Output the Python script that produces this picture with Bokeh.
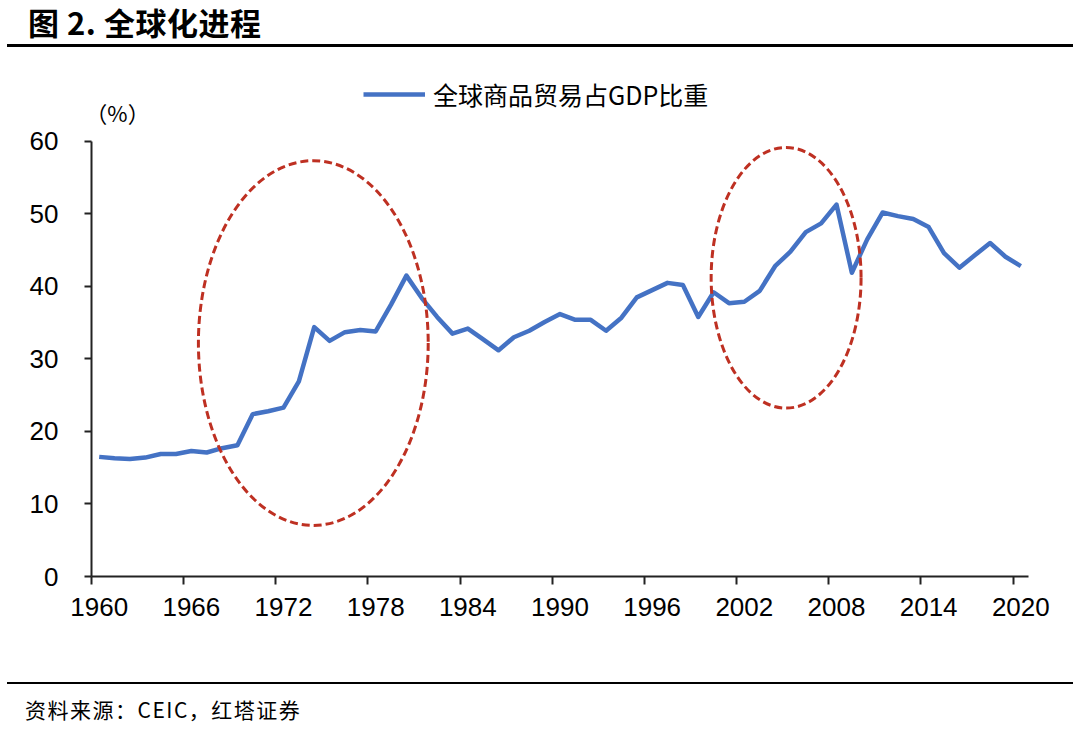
from bokeh.plotting import figure
from bokeh.layouts import column
from bokeh.models import (ColumnDataSource, Range1d, FixedTicker, Label, Legend,
                          LegendItem, Div)
from bokeh.embed import file_html
from bokeh.resources import INLINE

# ---- data ----
years = list(range(1960, 2021))
trade_share = [16.5, 16.3, 16.2, 16.4, 16.9, 16.9, 17.3, 17.1, 17.7, 18.1,
               22.4, 22.8, 23.3, 26.9, 34.4, 32.5, 33.7, 34.0, 33.8, 37.5,
               41.5, 38.4, 35.8, 33.5, 34.2, 32.7, 31.2, 33.0, 33.9, 35.1,
               36.2, 35.4, 35.4, 33.9, 35.7, 38.5, 39.5, 40.5, 40.2, 35.8,
               39.2, 37.7, 37.9, 39.4, 42.8, 44.8, 47.5, 48.7, 51.3, 41.9,
               46.5, 50.2, 49.7, 49.3, 48.2, 44.6, 42.6, 44.3, 46.0, 44.1,
               42.8]
series_name = "全球商品贸易占GDP比重"
x_tick_labels = [1960, 1966, 1972, 1978, 1984, 1990, 1996, 2002, 2008, 2014, 2020]
y_ticks = [0, 10, 20, 30, 40, 50, 60]

# highlighted periods (ellipses): centre year, centre value, width (years), height (value)
ell_x = [1973.94, 2004.72]
ell_y = [32.2, 41.2]
ell_w = [14.96, 9.76]
ell_h = [50.3, 35.95]

title_text = "图 2. 全球化进程"
unit_text = "（%）"
source_text = "资料来源：CEIC，红塔证券"

CJK = "Noto Sans CJK SC"
LAT = "Liberation Sans"
W = 1080

# ---- header: title + rule ----
header_html = (
    '<div style="position:relative;width:1080px;height:60px;margin:0;padding:0;">'
    '<div style="position:absolute;left:28px;top:6px;white-space:nowrap;'
    'font-family:\'Noto Sans CJK SC\';font-weight:bold;font-size:31px;'
    'line-height:31px;letter-spacing:0.5px;color:black;">' + title_text + '</div>'
    '<div style="position:absolute;left:7px;top:44px;width:1066px;height:3px;'
    'background:black;"></div></div>'
)
header = Div(text=header_html, width=W, height=60, margin=0)

# ---- main chart ----
p = figure(width=W, height=610, output_backend="svg", toolbar_location=None,
           x_range=Range1d(1959.5, 2020.5), y_range=Range1d(0, 69.79),
           min_border_left=91, min_border_right=52, min_border_top=10,
           min_border_bottom=94, margin=0)
p.outline_line_color = None
p.xgrid.visible = False
p.ygrid.visible = False
p.background_fill_color = "white"
p.border_fill_color = "white"

src = ColumnDataSource(dict(x=years, y=trade_share))
line = p.line("x", "y", source=src, line_color="#4472C4", line_width=4.5,
              line_join="round")

esrc = ColumnDataSource(dict(x=ell_x, y=ell_y, w=ell_w, h=ell_h))
p.ellipse("x", "y", width="w", height="h", source=esrc, fill_color=None,
          line_color="#BE3022", line_width=3, line_dash="8 4")

# x axis: labels at category centres, tick marks at category boundaries
xa = p.xaxis[0]
xa.ticker = FixedTicker(ticks=x_tick_labels,
                        minor_ticks=[t - 0.5 for t in x_tick_labels])
xa.major_tick_out = 0
xa.major_tick_in = 0
xa.minor_tick_out = 8
xa.minor_tick_in = 0
xa.minor_tick_line_color = "#222222"
xa.minor_tick_line_width = 2
xa.axis_line_color = "#222222"
xa.axis_line_width = 2
xa.major_label_text_font = LAT
xa.major_label_text_font_size = "26px"
xa.major_label_text_color = "black"
xa.major_label_standoff = 13

ya = p.yaxis[0]
ya.ticker = FixedTicker(ticks=y_ticks)
ya.bounds = (0, 60)
ya.major_tick_out = 7
ya.major_tick_in = 0
ya.minor_tick_out = 0
ya.minor_tick_in = 0
ya.major_tick_line_color = "#222222"
ya.major_tick_line_width = 2
ya.axis_line_color = "#222222"
ya.axis_line_width = 2
ya.major_label_text_font = LAT
ya.major_label_text_font_size = "26px"
ya.major_label_text_color = "black"
ya.major_label_standoff = 26

legend = Legend(items=[LegendItem(label=series_name, renderers=[line])],
                location=(272, 464), orientation="horizontal",
                glyph_width=62, glyph_height=28, label_height=28,
                label_standoff=8, padding=0, margin=0, spacing=0,
                border_line_color=None, background_fill_alpha=0,
                label_text_font=CJK, label_text_font_size="25px",
                label_text_color="black")
p.add_layout(legend, "center")

p.add_layout(Label(x=26, y=465, x_units="screen", y_units="screen",
                   text=unit_text, text_font=CJK, text_font_size="22px",
                   text_align="center", text_baseline="middle",
                   text_color="black"))

# ---- footer: rule + source ----
footer_html = (
    '<div style="position:relative;width:1080px;height:71px;margin:0;padding:0;">'
    '<div style="position:absolute;left:7px;top:12px;width:1066px;height:2px;'
    'background:black;"></div>'
    '<div style="position:absolute;left:25px;top:28px;white-space:nowrap;'
    'font-family:\'Noto Sans CJK SC\';font-size:21px;line-height:22px;'
    'letter-spacing:1.5px;color:black;">' + source_text + '</div></div>'
)
footer = Div(text=footer_html, width=W, height=71, margin=0)

layout = column(header, p, footer, spacing=0)
open("out.html", "w").write(file_html(layout, INLINE))
